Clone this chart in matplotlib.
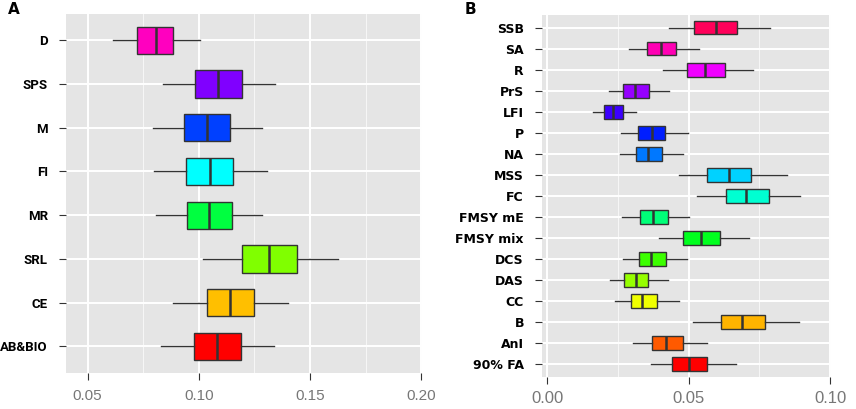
import numpy as np
import matplotlib.pyplot as plt
from matplotlib.colors import hsv_to_rgb
from matplotlib.ticker import FormatStrFormatter, MultipleLocator

# panel A (top to bottom)
a_labels = ['D', 'SPS', 'M', 'FI', 'MR', 'SRL', 'CE', 'AB&BIO']
a_lo = [0.0615, 0.0839, 0.0794, 0.0799, 0.0809, 0.1018, 0.0885, 0.0831]
a_q1 = [0.0724, 0.0985, 0.0934, 0.0943, 0.0948, 0.1196, 0.1036, 0.0979]
a_med = [0.0809, 0.1085, 0.1039, 0.1051, 0.1048, 0.1316, 0.1140, 0.1082]
a_q3 = [0.0885, 0.1194, 0.1142, 0.1154, 0.1148, 0.1443, 0.1246, 0.1191]
a_hi = [0.1007, 0.1342, 0.1285, 0.1306, 0.1285, 0.1628, 0.1399, 0.1339]
a_ticks = [0.05, 0.10, 0.15, 0.20]

# panel B (top to bottom)
b_labels = ['SSB', 'SA', 'R', 'PrS', 'LFI', 'P', 'NA', 'MSS', 'FC', 'FMSY mE',
            'FMSY mix', 'DCS', 'DAS', 'CC', 'B', 'AnI', '90% FA']
b_lo = [0.0431, 0.0290, 0.0410, 0.0219, 0.0163, 0.0261, 0.0255, 0.0465, 0.0530,
        0.0264, 0.0396, 0.0266, 0.0222, 0.0239, 0.0514, 0.0301, 0.0366]
b_q1 = [0.0520, 0.0352, 0.0494, 0.0268, 0.0200, 0.0320, 0.0312, 0.0566, 0.0632,
        0.0326, 0.0480, 0.0323, 0.0272, 0.0294, 0.0615, 0.0370, 0.0442]
b_med = [0.0597, 0.0400, 0.0559, 0.0310, 0.0233, 0.0369, 0.0357, 0.0642, 0.0703,
         0.0375, 0.0544, 0.0366, 0.0314, 0.0335, 0.0688, 0.0421, 0.0502]
b_q3 = [0.0670, 0.0455, 0.0628, 0.0358, 0.0267, 0.0417, 0.0407, 0.0721, 0.0784,
        0.0426, 0.0610, 0.0418, 0.0356, 0.0388, 0.0768, 0.0481, 0.0566]
b_hi = [0.0787, 0.0535, 0.0727, 0.0430, 0.0314, 0.0498, 0.0481, 0.0848, 0.0895,
        0.0501, 0.0712, 0.0493, 0.0426, 0.0466, 0.0890, 0.0563, 0.0668]
b_ticks = [0.00, 0.05, 0.10]


def panel(ax, labels, lo, q1, med, q3, hi, ticks, xlim, width, lab_font, lab_size,
          tick_size, tick_pad):
    n = len(labels)
    stats = [dict(whislo=lo[i], q1=q1[i], med=med[i], q3=q3[i], whishi=hi[i], fliers=[])
             for i in range(n)]
    pos = np.arange(n)
    res = ax.bxp(stats, positions=pos, vert=False, widths=width, patch_artist=True,
                 showcaps=False,
                 boxprops=dict(edgecolor='#333333', linewidth=1.0),
                 medianprops=dict(color='#333333', linewidth=1.8),
                 whiskerprops=dict(color='#333333', linewidth=1.0))
    for i, box in enumerate(res['boxes']):
        box.set_facecolor(hsv_to_rgb([(n - 1 - i) / n, 1, 1]))
        box.set_zorder(3)
    for ln in res['medians'] + res['whiskers']:
        ln.set_zorder(3)
    ax.set_facecolor('#E5E5E5')
    for s in ax.spines.values():
        s.set_visible(False)
    ax.set_xlim(*xlim)
    ax.set_ylim(n - 1 + 0.6, -0.6)
    ax.set_xticks(ticks)
    ax.xaxis.set_minor_locator(MultipleLocator((ticks[1] - ticks[0]) / 2))
    ax.xaxis.set_major_formatter(FormatStrFormatter('%.2f'))
    ax.set_yticks(pos)
    ax.set_yticklabels(labels, fontweight='bold', family=lab_font, fontsize=lab_size)
    ax.grid(True, which='major', color='white', linewidth=1.4)
    ax.grid(True, which='minor', axis='x', color='white', linewidth=0.6, alpha=0.8)
    ax.set_axisbelow(True)
    ax.tick_params(axis='y', length=5, color='#333333', pad=8)
    ax.tick_params(axis='x', which='major', length=5, color='#333333', labelcolor='#777777',
                   labelsize=tick_size, pad=tick_pad)
    ax.tick_params(axis='x', which='minor', length=0)
    for t in ax.get_xticklabels():
        t.set_family('Liberation Sans')


fig = plt.figure(figsize=(8.56, 4.09), dpi=100)
ax1 = fig.add_axes([0.0771, 0.0888, 0.4155, 0.877])
ax2 = fig.add_axes([0.6332, 0.0790, 0.3373, 0.8843])

panel(ax1, a_labels, a_lo, a_q1, a_med, a_q3, a_hi, a_ticks, (0.0403, 0.2002), 0.62,
      'Roboto', 9.5, 11, 7)
panel(ax2, b_labels, b_lo, b_q1, b_med, b_q3, b_hi, b_ticks, (-0.0019, 0.1002), 0.65,
      'DejaVu Sans', 9, 12, 5)

fig.text(14 / 856, 1 - 9 / 409, 'A', fontsize=11, fontweight='bold', ha='center', va='center')
fig.text(470 / 856, 1 - 9 / 409, 'B', fontsize=11, fontweight='bold', ha='center', va='center')

fig.savefig('out.png', dpi=100)
